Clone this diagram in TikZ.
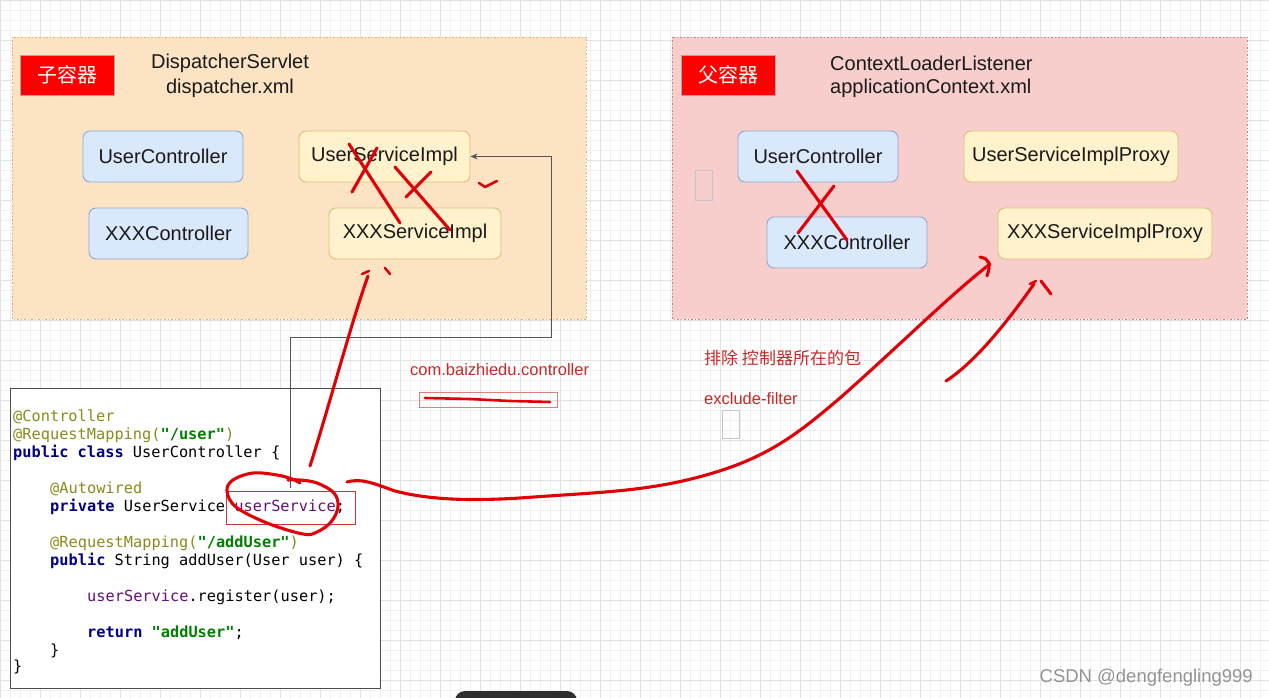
\documentclass[tikz,border=0pt]{standalone}
\usepackage{fontspec}
\setmainfont{Liberation Sans}
\newfontfamily\cjk{Noto Sans CJK SC}
\newfontfamily\codefont{DejaVu Sans Mono}
\usetikzlibrary{arrows.meta}
\definecolor{gridminor}{HTML}{F0F0F0}
\definecolor{gridmajor}{HTML}{E2E2E2}
\definecolor{orfill}{HTML}{FCE3C4}
\definecolor{orline}{HTML}{E0B070}
\definecolor{rdfill}{HTML}{F8CECC}
\definecolor{rdline}{HTML}{C98080}
\definecolor{bluefill}{HTML}{DAE8FC}
\definecolor{blueline}{HTML}{8EA8D0}
\definecolor{yelfill}{HTML}{FFF2CC}
\definecolor{yelline}{HTML}{DCC070}
\definecolor{txt}{HTML}{1A1A1A}
\definecolor{hand}{HTML}{E00008}
\definecolor{labred}{HTML}{C42A2A}
\definecolor{ann}{HTML}{8A8A1E}
\definecolor{kw}{HTML}{000080}
\definecolor{strg}{HTML}{008000}
\definecolor{fld}{HTML}{660E7A}
\definecolor{conn}{HTML}{555555}
\begin{document}
\begin{tikzpicture}[x=1pt,y=-1pt,
  container/.style={line width=0.9pt, dash pattern=on 1.5pt off 2pt},
  tagbox/.style={draw=gray!70, line width=0.8pt, fill=red, text=white, font=\cjk\fontsize{20}{24}\selectfont, minimum width=94, minimum height=40, inner sep=0},
  bluebox/.style={draw=blueline, fill=bluefill, rounded corners=7pt, line width=0.9pt, font=\fontsize{20}{24}\selectfont, text=txt, inner sep=0},
  yelbox/.style={draw=yelline, fill=yelfill, rounded corners=7pt, line width=0.9pt, font=\fontsize{20}{24}\selectfont, text=txt, inner sep=0},
  title/.style={font=\fontsize{20}{24}\selectfont, text=txt, inner sep=0},
  codeline/.style={anchor=west, inner sep=0, font=\codefont\fontsize{15.3}{18}\selectfont, text height=11pt, text depth=3pt, text=black},
  redlabel/.style={anchor=west, inner sep=0, text=labred, font=\fontsize{16.5}{20}\selectfont},
  hand/.style={draw=hand, line width=3.1pt, line cap=round, line join=round},
  ghost/.style={draw=gray!45, line width=0.8pt}
]
\clip (0,0) rectangle (1269,698);
\useasboundingbox (0,0) rectangle (1269,698);
\fill[white] (0,0) rectangle (1269,698);
% grid
\foreach \x in {0,10,...,1270} \draw[gridminor, line width=0.6pt] (\x,0) -- (\x,698);
\foreach \y in {0,10,...,700} \draw[gridminor, line width=0.6pt] (0,\y) -- (1269,\y);
\foreach \x in {0,40,...,1270} \draw[gridmajor, line width=0.8pt] (\x,0) -- (\x,698);
\foreach \y in {0,40,...,700} \draw[gridmajor, line width=0.8pt] (0,\y) -- (1269,\y);

% containers
\draw[container, draw=orline, fill=orfill] (12,37) rectangle (586,319);
\draw[container, draw=rdline, fill=rdfill] (672,37) rectangle (1247,319);

\node[tagbox] (tag1) at (67,75) {子容器};
\node[tagbox] (tag2) at (728,75) {父容器};

\node[title] (t1a) at (230,63) {DispatcherServlet};
\node[title] (t1b) at (230,88) {dispatcher.xml};
\node[title, anchor=west] (t2a) at (830,63) {ContextLoaderListener};
\node[title, anchor=west] (t2b) at (830,88) {applicationContext.xml};

% child container boxes
\node[bluebox, minimum width=160, minimum height=51] (uc1) at (163,156.5) {UserController};
\node[bluebox, minimum width=159, minimum height=51] (xc1) at (168.5,233.5) {XXXController};
\node[yelbox, minimum width=171, minimum height=51] (us1) at (384.5,156.5) {UserServiceImpl};
\node[yelbox, minimum width=172, minimum height=51] (xs1) at (415,233.5) {XXXServiceImpl};

% parent container boxes
\node[bluebox, minimum width=160, minimum height=51] (uc2) at (818,156.5) {UserController};
\node[bluebox, minimum width=160, minimum height=51] (xc2) at (847,242.5) {XXXController};
\node[yelbox, minimum width=214, minimum height=51] (us2) at (1071,156.5) {UserServiceImplProxy};
\node[yelbox, minimum width=214, minimum height=51] (xs2) at (1105,233.5) {XXXServiceImplProxy};

% ghost rectangles
\draw[ghost] (695,170) rectangle (712,200);
\draw[ghost] (722,410) rectangle (739,438);

% labels
\node[redlabel] (pkg) at (410,370) {com.baizhiedu.controller};
\node[redlabel, font=\cjk\fontsize{17}{20}\selectfont] (excl) at (704,358) {排除 控制器所在的包};
\node[redlabel] (exf) at (704,399) {exclude-filter};
\draw[draw=labred!60, line width=0.7pt] (419,392) rectangle (557,407);

% code box
\draw[draw=black!70, fill=white, line width=1pt] (10,388) rectangle (380,688);
\node[codeline] (l1) at (13,417) {\textcolor{ann}{@Controller}};
\node[codeline] (l2) at (13,435) {\textcolor{ann}{@RequestMapping(}\textcolor{strg}{\bfseries "/user"}\textcolor{ann}{)}};
\node[codeline] (l3) at (13,453) {{\bfseries\color{kw}public class} UserController \{};
\node[codeline] (l4) at (50,489) {\textcolor{ann}{@Autowired}};
\node[codeline] (l5) at (50,507) {{\bfseries\color{kw}private} UserService \textcolor{fld}{userService};};
\node[codeline] (l6) at (50,543) {\textcolor{ann}{@RequestMapping(}\textcolor{strg}{\bfseries "/addUser"}\textcolor{ann}{)}};
\node[codeline] (l7) at (50,561) {{\bfseries\color{kw}public} String addUser(User user) \{};
\node[codeline] (l8) at (87,597) {\textcolor{fld}{userService}.register(user);};
\node[codeline] (l9) at (87,633) {{\bfseries\color{kw}return} \textcolor{strg}{\bfseries "addUser"};};
\node[codeline] (l10) at (50,651) {\}};
\node[codeline] (l11) at (13,667) {\}};
\draw[draw=red!60!gray, line width=0.8pt] (226,491) rectangle (355,524);

% gray connector
\coordinate (g0) at (290,488);
\coordinate (g1) at (551,337);
\draw[conn, line width=1pt, -{Stealth[length=7pt,width=6pt]}] (g0) |- (g1) |- (us1.east);

% bottom dark bar
\fill[black!82, rounded corners=10pt] (455,691) rectangle (577,720);

% watermark
\node[anchor=east, inner sep=0, text=gray!85, font=\fontsize{18.5}{22}\selectfont] (wm) at (1253,678) {CSDN @dengfengling999};

% hand-drawn strokes
\draw[hand] (349,144) -- (400,223);
\draw[hand] (352,192) -- (377,148);
\draw[hand] (395,167) -- (450,230);
\draw[hand] (406,197) -- (431,172);
\draw[hand, line width=2.5pt] (479,183) -- (485,187) -- (497,181);
\draw[hand, line width=2.5pt] (362,274) -- (369,271);
\draw[hand, line width=2.5pt] (385,268) -- (390,274);
\draw[hand] (797,171) -- (847,240);
\draw[hand] (834,186) -- (798,233);
\draw[hand] (310,466) .. controls (328,410) and (352,320) .. (368,276);
\draw[hand, line width=2.6pt] (425,398) -- (470,399) -- (510,401) -- (550,402);
\draw[hand] plot[smooth, tension=0.6] coordinates {(288,480) (300,480) (317,483) (334,493) (338,507) (331,522) (317,532) (303,534) (267,523) (236,507) (227,491) (233,480) (253,473) (277,475) (292,479) (300,483)};
\draw[hand] (347,482) .. controls (362,478) and (372,483) .. (395,491)
  .. controls (430,500) and (470,501) .. (520,498)
  .. controls (600,492) and (650,492) .. (713,473)
  .. controls (770,456) and (800,432) .. (840,398)
  .. controls (900,345) and (950,295) .. (990,264);
\draw[hand] (980,257) .. controls (990,259) and (991,264) .. (987,276);
\draw[hand] (946,381) .. controls (975,362) and (1005,325) .. (1034,284);
\draw[hand, line width=2.5pt] (1030,284) -- (1036,281);
\draw[hand] (1041,281) -- (1051,294);
\end{tikzpicture}
\end{document}
